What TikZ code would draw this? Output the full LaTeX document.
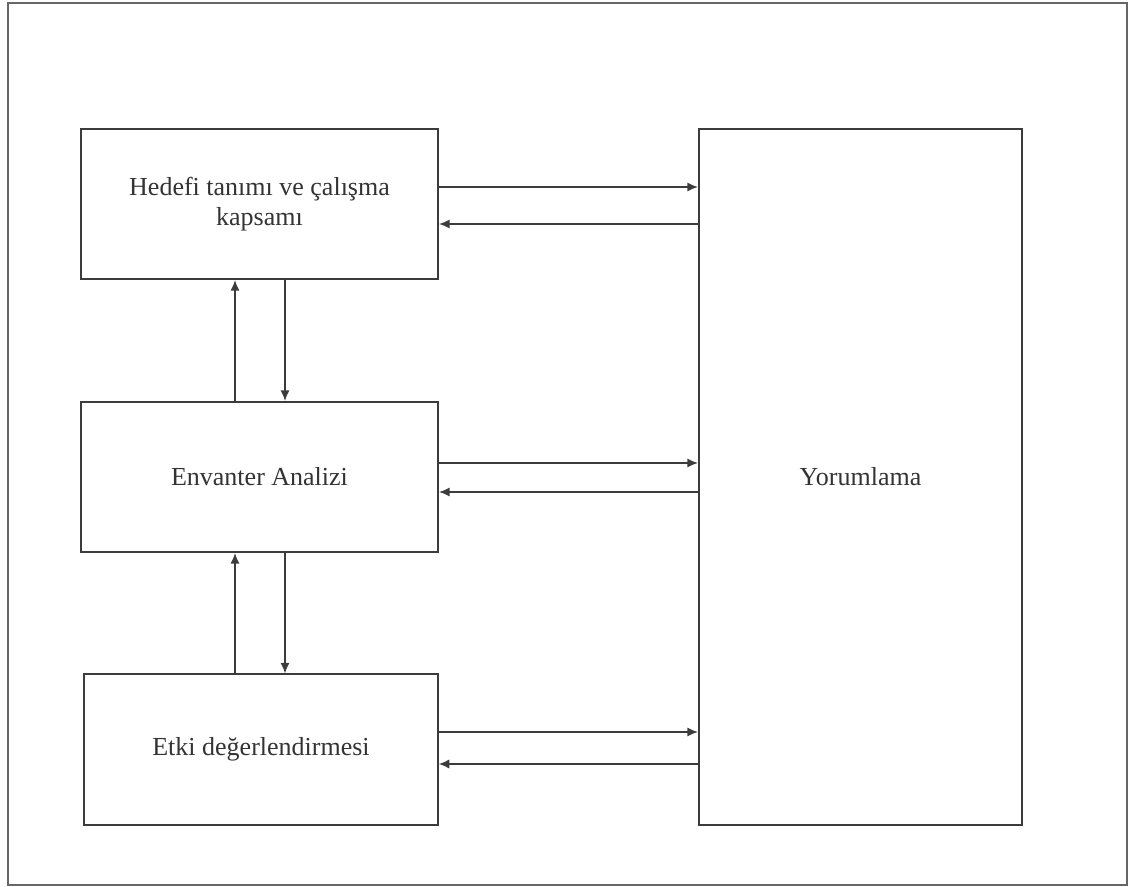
\documentclass[tikz,border=0pt]{standalone}
\usepackage{fontspec}
\setmainfont{Liberation Serif}
\usetikzlibrary{arrows.meta}
\definecolor{lc}{RGB}{60,60,60}
\begin{document}
\begin{tikzpicture}[x=0.75pt,y=-0.75pt,
  boxstyle/.style={draw=lc,line width=1.5pt,align=center,inner sep=0pt,
    font=\fontsize{19.5}{22.5}\selectfont,text=black!80},
  conn/.style={draw=lc,line width=1.3pt,-{Latex[length=8pt,width=7pt]}}]
\useasboundingbox (0,0) rectangle (1129,887);
\draw[draw=gray!80!black,line width=1.6pt] (8,3) rectangle (1127,885);
\node[boxstyle,minimum width=267.75pt,minimum height=112.5pt] (b1) at (259.5,204) {Hedefi tanımı ve çalışma\\kapsamı};
\node[boxstyle,minimum width=267.75pt,minimum height=112.5pt] (b2) at (259.5,477) {Envanter Analizi};
\node[boxstyle,minimum width=265pt,minimum height=112.5pt] (b3) at (261,749.5) {Etki değerlendirmesi};
\node[boxstyle,minimum width=242.25pt,minimum height=522pt] (yor) at (860.5,477) {Yorumlama};
\coordinate (r1) at (0,187);
\coordinate (l1) at (0,224);
\coordinate (r2) at (0,463);
\coordinate (l2) at (0,492);
\coordinate (r3) at (0,732);
\coordinate (l3) at (0,764);
\coordinate (up) at (235,0);
\coordinate (dn) at (285,0);
\draw[conn] (b1.east |- r1) -- (yor.west |- r1);
\draw[conn] (yor.west |- l1) -- (b1.east |- l1);
\draw[conn] (b2.east |- r2) -- (yor.west |- r2);
\draw[conn] (yor.west |- l2) -- (b2.east |- l2);
\draw[conn] (b3.east |- r3) -- (yor.west |- r3);
\draw[conn] (yor.west |- l3) -- (b3.east |- l3);
\draw[conn] (b2.north -| up) -- (b1.south -| up);
\draw[conn] (b1.south -| dn) -- (b2.north -| dn);
\draw[conn] (b3.north -| up) -- (b2.south -| up);
\draw[conn] (b2.south -| dn) -- (b3.north -| dn);
\end{tikzpicture}
\end{document}
